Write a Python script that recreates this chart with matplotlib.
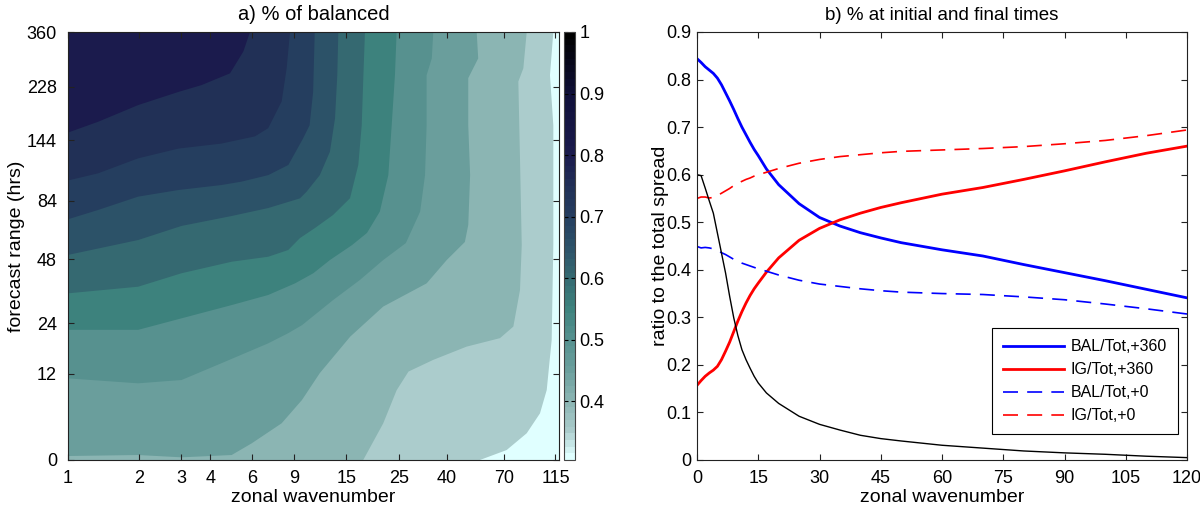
import numpy as np
import matplotlib
matplotlib.use('Agg')
import matplotlib.pyplot as plt
from matplotlib.colors import LinearSegmentedColormap, Normalize
from matplotlib.cm import ScalarMappable
from matplotlib.ticker import NullLocator, FuncFormatter

plt.rcParams['font.family'] = ['Liberation Sans', 'DejaVu Sans']

# ---- panel a: contour boundaries (wavenumber, hours) ----
levels = [0.35, 0.40, 0.45, 0.50, 0.55, 0.60, 0.65, 0.70, 0.75, 0.80]

lev35_k = [55.1, 71.5, 86.9, 98.9, 105.6, 110.8, 112.6, 112.6, 109.0, 112.6]
lev35_h = [0, 1.0, 2.87, 5.45, 9.04, 19.4, 55.3, 164, 251, 360]

lev40_k = [17.7, 21.5, 24.5, 27.5, 35.0, 48.4, 67.0, 76.3, 81.4, 82.8, 81.4, 80.1, 84.1, 86.9]
lev40_h = [0, 4.1, 9.0, 12.4, 14.8, 17.8, 19.9, 23.0, 34.9, 55.3, 123, 238, 266, 360]

lev45_k = [1, 1.98, 3.02, 4.92, 5.98, 8.0, 9.75, 11.6, 15.6, 21.5, 32.8, 39.9, 47.6,
           49.2, 50.1, 49.2, 49.2, 54.2, 53.4]
lev45_h = [0.39, 0.49, 0.26, 0.49, 1.72, 4.11, 7.42, 12.1, 20.3, 29.1, 37.5, 47.7, 57,
           67.1, 106, 164, 245, 289, 360]

lev50_k = [1, 1.98, 3.02, 4.46, 7.02, 8.53, 9.75, 13.2, 17.15, 21.5, 26.8, 30.8, 32.3,
           32.8, 32.8, 34.5, 35.0]
lev50_h = [11.1, 10.2, 10.8, 14.1, 18.6, 21.2, 23.4, 31.3, 38.9, 47.7, 56.4, 76, 106,
           164, 251, 289, 360]

lev55_k = [1, 1.98, 3.02, 4.92, 7.02, 9.11, 10.89, 12.8, 15.87, 18.36, 20.8, 22.6, 23.35, 24.1, 24.5]
lev55_h = [22.1, 22.1, 25.4, 29.6, 33.1, 37.5, 41.7, 47.7, 55.3, 62.2, 76, 106, 164, 251, 360]

lev60_k = [1, 1.98, 3.02, 4.92, 7.02, 8.53, 9.56, 11.07, 13.2, 15.56, 16.87, 17.44, 17.73, 18.0]
lev60_h = [33.7, 36.2, 41.7, 46.9, 49.3, 52.7, 59.2, 65.2, 73.7, 86, 116, 164, 251, 360]

lev65_k = [1, 1.98, 3.02, 4.92, 7.02, 9.56, 10.2, 11.6, 12.8, 13.45, 13.75, 13.89]
lev65_h = [50.2, 58.1, 66.5, 73, 78.6, 85.9, 91.3, 106, 130.4, 174, 251, 360]

lev70_k = [1, 1.34, 1.98, 2.93, 4.46, 5.42, 7.02, 8.54, 9.86, 10.5, 10.87, 11.04]
lev70_h = [70.8, 77.2, 87.3, 92.7, 97, 100, 106, 116, 146.5, 164, 218, 360]

lev75_k = [1, 1.34, 1.98, 2.93, 4.46, 6.17, 7.02, 8.0, 8.4, 8.68]
lev75_h = [101, 107.7, 123, 134, 140, 149, 160, 201, 266, 360]

lev80_k = [1, 1.34, 1.98, 2.93, 3.67, 4.84, 5.51, 5.88]
lev80_h = [154, 169, 195, 218, 231, 255, 306, 360]

wn_ticks = [1, 2, 3, 4, 6, 9, 15, 25, 40, 70, 115]
hr_ticks = [0, 12, 24, 48, 84, 144, 228, 360]

# colour scale sampled from the colorbar
cm_vals = [0.305, 0.35, 0.40, 0.45, 0.50, 0.55, 0.60, 0.65, 0.70, 0.75, 0.80, 0.90, 1.00]
cm_cols = ['#E0FFFF', '#A9CACA', '#8AB4B2', '#6A9E9C', '#56918F', '#3D827D', '#356971',
           '#2C5268', '#253E5F', '#213056', '#1B1B4D', '#10103A', '#000000']

# ---- panel b: ratios vs zonal wavenumber ----
wn = [0, 1, 2, 3, 4, 5, 6, 7, 8, 9, 10, 11, 12, 13, 14, 15, 17, 20, 25, 30, 35, 40, 45,
      50, 60, 70, 80, 90, 100, 110, 120]
bal360 = [0.844, 0.836, 0.827, 0.820, 0.813, 0.803, 0.789, 0.772, 0.755, 0.737, 0.718,
          0.700, 0.684, 0.668, 0.653, 0.640, 0.612, 0.579, 0.539, 0.510, 0.492, 0.478,
          0.467, 0.457, 0.442, 0.429, 0.411, 0.394, 0.377, 0.359, 0.341]
ig360 = [0.157, 0.167, 0.176, 0.183, 0.189, 0.197, 0.211, 0.229, 0.248, 0.270, 0.292,
         0.312, 0.330, 0.346, 0.360, 0.372, 0.395, 0.425, 0.462, 0.487, 0.505, 0.519,
         0.531, 0.541, 0.559, 0.573, 0.590, 0.608, 0.627, 0.645, 0.660]
bal0 = [0.449, 0.446, 0.447, 0.446, 0.444, 0.440, 0.436, 0.432, 0.427, 0.422, 0.418,
        0.414, 0.411, 0.408, 0.405, 0.402, 0.397, 0.389, 0.378, 0.370, 0.365, 0.360,
        0.356, 0.353, 0.350, 0.348, 0.343, 0.337, 0.328, 0.318, 0.307]
ig0 = [0.550, 0.553, 0.553, 0.551, 0.552, 0.556, 0.561, 0.566, 0.571, 0.577, 0.582,
       0.586, 0.590, 0.593, 0.597, 0.600, 0.605, 0.613, 0.624, 0.632, 0.638, 0.642,
       0.646, 0.649, 0.652, 0.655, 0.659, 0.665, 0.672, 0.682, 0.694]
black = [0.600, 0.598, 0.572, 0.545, 0.519, 0.477, 0.435, 0.393, 0.344, 0.299, 0.262,
         0.232, 0.211, 0.193, 0.176, 0.162, 0.141, 0.119, 0.092, 0.075, 0.063, 0.052,
         0.045, 0.040, 0.031, 0.025, 0.019, 0.015, 0.012, 0.008, 0.005]

# ─── figure ──────────────────────────────────────────────────────────────────
W, H = 1200, 514
fig = plt.figure(figsize=(W / 100, H / 100), dpi=100)

def box(x0, x1, y0, y1):
    return [x0 / W, 1 - y1 / H, (x1 - x0) / W, (y1 - y0) / H]

ax1 = fig.add_axes(box(68, 559, 32, 460))
cax = fig.add_axes(box(564, 575, 32, 460))
ax2 = fig.add_axes(box(697, 1187, 32, 460))

norm = Normalize(0.305, 1.0)
cmap = LinearSegmentedColormap.from_list('bal', list(zip(norm(cm_vals), cm_cols)), N=256)
cmap64 = LinearSegmentedColormap.from_list('bal64', list(zip(norm(cm_vals), cm_cols)), N=64)

# ── panel a ──
ax1.set_xscale('log')
ax1.set_yscale('function', functions=(lambda h: np.log(np.asarray(h) + 12.0),
                                      lambda v: np.exp(v) - 12.0))
ax1.set_facecolor(cmap(0.0))
bounds = [(lev35_k, lev35_h), (lev40_k, lev40_h), (lev45_k, lev45_h), (lev50_k, lev50_h),
          (lev55_k, lev55_h), (lev60_k, lev60_h), (lev65_k, lev65_h), (lev70_k, lev70_h),
          (lev75_k, lev75_h), (lev80_k, lev80_h)]
for lev, (ks, hs) in zip(levels, bounds):
    ax1.fill(list(ks) + [1, 1], list(hs) + [360, 0], color=cmap(norm(lev)), lw=0)
ax1.set_xlim(1, 119)
ax1.set_ylim(0, 360)
ax1.set_xticks(wn_ticks, labels=[str(t) for t in wn_ticks])
ax1.set_yticks(hr_ticks, labels=[str(t) for t in hr_ticks])
ax1.xaxis.set_minor_locator(NullLocator())
ax1.yaxis.set_minor_locator(NullLocator())
ax1.tick_params(axis='x', pad=7)
ax1.tick_params(axis='y', pad=8)
ax1.set_xlabel('zonal wavenumber', fontsize=14)
ax1.set_ylabel('forecast range (hrs)', fontsize=14)
ax1.xaxis.set_label_coords(0.5, -0.068)
ax1.yaxis.set_label_coords(-0.088, 0.5)
ax1.set_title('a) % of balanced', fontsize=14.5, pad=9)

sm = ScalarMappable(norm=norm, cmap=cmap64)
cb = fig.colorbar(sm, cax=cax, ticks=[0.4, 0.5, 0.6, 0.7, 0.8, 0.9, 1.0])
cb.ax.yaxis.set_major_formatter(FuncFormatter(lambda v, p: f'{v:g}'))
cb.ax.tick_params(direction='in', left=True, right=True, length=3, width=0.8,
                  labelsize=13, pad=3)
cb.outline.set_linewidth(0.8)
cb.outline.set_edgecolor('#444444')

# ── panel b ──
ax2.plot(wn, bal360, color='#0000FF', lw=2.0, label='BAL/Tot,+360')
ax2.plot(wn, ig360, color='#FF0000', lw=2.0, label='IG/Tot,+360')
ax2.plot(wn, bal0, color='#0000FF', lw=1.2, dashes=(9, 5.5), label='BAL/Tot,+0')
ax2.plot(wn, ig0, color='#FF0000', lw=1.2, dashes=(9, 5.5), label='IG/Tot,+0')
ax2.plot(wn, black, color='black', lw=1.0)
ax2.set_xlim(0, 120)
ax2.set_ylim(0, 0.9)
ax2.set_xticks(np.arange(0, 121, 15))
ax2.set_yticks(np.arange(0, 0.91, 0.1))
ax2.yaxis.set_major_formatter(FuncFormatter(lambda v, p: f'{v:.1f}' if v > 0 else '0'))
ax2.tick_params(axis='x', pad=7)
ax2.tick_params(axis='y', pad=4)
ax2.set_xlabel('zonal wavenumber', fontsize=14)
ax2.set_ylabel('ratio to the total spread', fontsize=14)
ax2.xaxis.set_label_coords(0.5, -0.068)
ax2.yaxis.set_label_coords(-0.058, 0.5)
ax2.set_title('b) % at initial and final times', fontsize=13.5, pad=9)
leg = ax2.legend(loc='lower right', bbox_to_anchor=(0.981, 0.06), borderaxespad=0,
                 fontsize=11.5, handlelength=3.8, handletextpad=0.4, labelspacing=0.5,
                 borderpad=0.7, fancybox=False, framealpha=1, edgecolor='black')
leg.get_frame().set_linewidth(0.8)

for ax in (ax1, ax2):
    ax.tick_params(direction='in', top=True, right=True, length=4, width=0.8,
                   labelsize=13, color='#222222')
    for s in ax.spines.values():
        s.set_linewidth(0.8)
        s.set_color('#222222')

fig.savefig('out.png', dpi=100)
